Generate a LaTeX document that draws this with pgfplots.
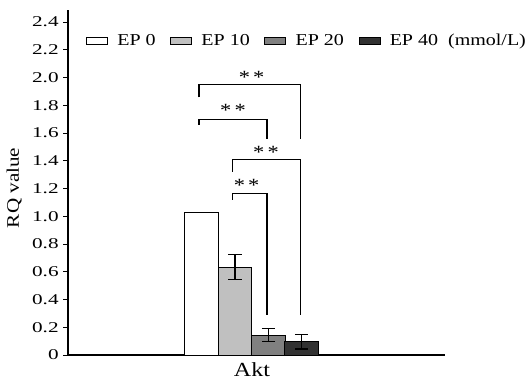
\documentclass[border=0pt]{standalone}
\usepackage{pgfplots}
\pgfplotsset{compat=1.18}
\usepackage{fontspec}
\setmainfont{Liberation Serif}[FakeStretch=1.2]
\newfontfamily\tickfont{Liberation Serif}[FakeStretch=1.42]
\definecolor{ep10}{RGB}{192,192,192}
\definecolor{ep20}{RGB}{128,128,128}
\definecolor{ep40}{RGB}{50,50,50}
\pgfplotsset{
  boxleg/.style={legend image code/.code={\draw[##1,line width=0.6pt] (0pt,-2.6pt) rectangle (15.75pt,2.6pt);}},
  plainbar/.style={ybar, bar shift=0pt, bar width=33.5, draw=black, line width=0.7pt},
  mybar/.style={plainbar,
    error bars/y dir=both, error bars/y explicit,
    error bars/error bar style={line width=0.8pt, black},
    error bars/error mark options={rotate=90, mark size=5pt, line width=0.8pt, black}},
}
\begin{document}
\begin{tikzpicture}
\begin{axis}[
  scale only axis,
  width=282.75pt, height=258.75pt,
  xmin=0, xmax=377, ymin=0, ymax=2.486,
  axis x line=bottom, axis y line=left,
  axis line style={-, line width=0.8pt},
  xtick={184}, xticklabels={Akt},
  x tick style={draw=none},
  ytick={0,0.2,0.4,0.6,0.8,1.0,1.2,1.4,1.6,1.8,2.0,2.2,2.4},
  yticklabels={0,0.2,0.4,0.6,0.8,1.0,1.2,1.4,1.6,1.8,2.0,2.2,2.4},
  y tick style={line width=0.6pt, black},
  tick align=outside, major tick length=3.5pt,
  y tick label style={font=\tickfont\fontsize{11.2}{13}\selectfont},
  x tick label style={font=\fontsize{15}{17}\selectfont, yshift=1pt},
  ylabel={RQ value},
  ylabel style={font=\fontsize{13.2}{15}\selectfont, xshift=-4pt, yshift=1pt},
  legend columns=-1,
  legend style={at={(rel axis cs:0.037,0.910)}, anchor=west, draw=none, fill=none,
    font=\fontsize{12.5}{14}\selectfont,
    /tikz/every odd column/.append style={column sep=5pt},
    /tikz/every even column/.append style={column sep=9pt}},
  clip=false,
]
\addplot[plainbar, fill=white, boxleg] coordinates {(133.5,1.03)};
\addlegendentry{EP 0}
\addplot[mybar, fill=ep10, boxleg] coordinates {(167,0.634) +- (0,0.09)};
\addlegendentry{EP 10}
\addplot[mybar, fill=ep20, boxleg] coordinates {(200.5,0.144) +- (0,0.048)};
\addlegendentry{EP 20}
\addplot[mybar, fill=ep40, boxleg] coordinates {(233.5,0.096) +- (0,0.053)};
\addlegendentry{EP 40\ \ (mmol/L)}
\begin{scope}[line width=0.8pt, black]
\draw (axis cs:131,1.857) -- (axis cs:131,1.951) -- (axis cs:232.7,1.951) -- (axis cs:232.7,1.56);
\draw (axis cs:131,1.66) -- (axis cs:131,1.70) -- (axis cs:199,1.70) -- (axis cs:199,1.56);
\draw (axis cs:164.3,1.32) -- (axis cs:164.3,1.41) -- (axis cs:232.7,1.41) -- (axis cs:232.7,0.29);
\draw (axis cs:164.3,1.117) -- (axis cs:164.3,1.165) -- (axis cs:199,1.165) -- (axis cs:199,0.29);
\end{scope}
\begin{scope}[every node/.style={font=\fontsize{14}{16}\selectfont, inner sep=0pt}]
\node at (axis cs:183.7,2.0) {*\,*};
\node at (axis cs:165,1.76) {*\,*};
\node at (axis cs:198,1.46) {*\,*};
\node at (axis cs:178.7,1.22) {*\,*};
\end{scope}
\end{axis}
\pgfresetboundingbox
\path (current axis.south west) ++(-51pt,-19.5pt) coordinate (bbA);
\path (current axis.north east) ++(65.25pt,7.5pt) coordinate (bbB);
\path (bbA) rectangle (bbB);
\end{tikzpicture}
\end{document}
